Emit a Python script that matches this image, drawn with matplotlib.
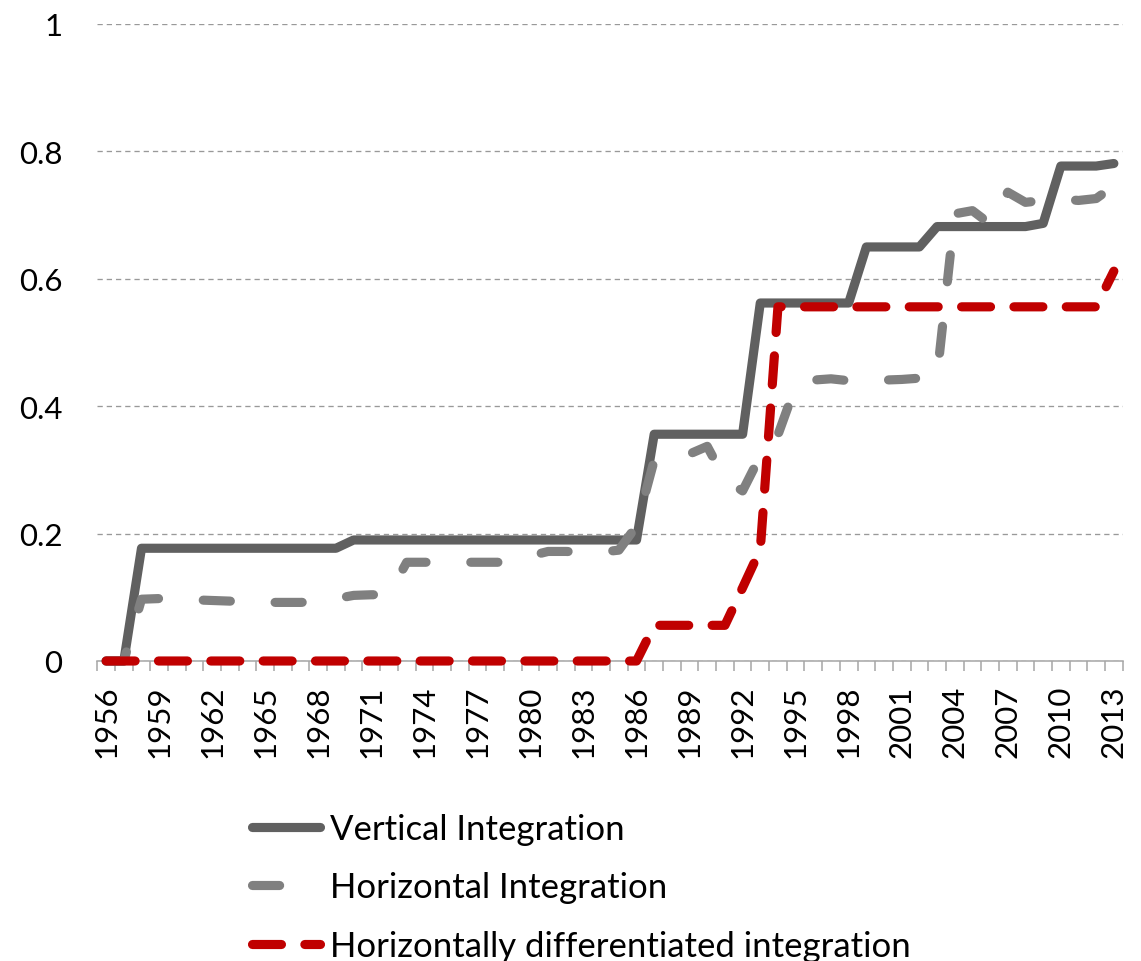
import numpy as np
import matplotlib
matplotlib.use("Agg")
import matplotlib.pyplot as plt

plt.rcParams['font.family'] = ['Lato', 'DejaVu Sans']

years = list(range(1956, 2014))

vertical = ([0.0, 0.0] + [0.177] * 12 + [0.19] * 17 + [0.356] * 6 + [0.562] * 6
            + [0.65] * 4 + [0.682] * 6 + [0.687] + [0.777] * 3 + [0.781])

horizontal = [0.0, 0.0, 0.097, 0.098, 0.097, 0.096, 0.095, 0.094, 0.093, 0.092,
              0.092, 0.092, 0.093, 0.098, 0.103, 0.104, 0.104, 0.155, 0.155, 0.155,
              0.155, 0.155, 0.155, 0.155, 0.165, 0.172, 0.172, 0.171, 0.171, 0.174,
              0.212, 0.315, 0.315, 0.325, 0.337, 0.285, 0.267, 0.322, 0.355, 0.432,
              0.441, 0.443, 0.440, 0.440, 0.441, 0.442, 0.444, 0.447, 0.702, 0.707,
              0.686, 0.736, 0.720, 0.723, 0.725, 0.723, 0.726, 0.746]

hdiff = [0.0] * 31 + [0.056] * 5 + [0.115, 0.175] + [0.556] * 19 + [0.612]

labels = ['Vertical Integration', 'Horizontal Integration',
          'Horizontally differentiated integration']
yticks = [0, 0.2, 0.4, 0.6, 0.8, 1.0]
ytick_labels = ['0', '0.2', '0.4', '0.6', '0.8', '1']

W, H = 1141, 962
fig = plt.figure(figsize=(W / 100, H / 100), dpi=100)
ax = fig.add_axes([97.3 / W, 1 - 662 / H, (1122.7 - 97.3) / W, (662 - 25) / H])

x = np.arange(len(years))
lw = 6.6
l1, = ax.plot(x, vertical, color='#606060', lw=lw, solid_capstyle='round',
              solid_joinstyle='round', zorder=3, clip_on=False)
l2, = ax.plot(x, horizontal, color='#808080', lw=lw, linestyle=(0, (2.96, 4.88)),
              dash_capstyle='round', dash_joinstyle='round', zorder=4, clip_on=False)
l3, = ax.plot(x, hdiff, color='#C00000', lw=lw, linestyle=(0, (3.16, 2.55)),
              dash_capstyle='round', dash_joinstyle='round', zorder=5, clip_on=False)

ax.set_xlim(-0.5, len(years) - 0.5)
ax.set_ylim(0, 1)

# category boundary ticks
ax.set_xticks(np.arange(-0.5, len(years), 1.0))
ax.set_xticklabels([])
ax.tick_params(axis='x', which='major', length=7.5, width=1.1, color='#a6a6a6', direction='out')
# labels every 3 years
ax.set_xticks(x[::3], minor=True)
ax.set_xticklabels([str(y) for y in years[::3]], minor=True, rotation=90, fontsize=22.5)
ax.tick_params(axis='x', which='minor', length=0, pad=17)

ax.set_yticks(yticks)
ax.set_yticklabels(ytick_labels, fontsize=22.5)
ax.tick_params(axis='y', length=0, pad=25)

ax.yaxis.grid(True, linestyle=(0, (4, 3)), linewidth=0.95, color='#999999')
ax.set_axisbelow(True)
for s in ['top', 'left', 'right']:
    ax.spines[s].set_visible(False)
ax.spines['bottom'].set_color('#a6a6a6')
ax.spines['bottom'].set_linewidth(1.1)

ax.legend([l1, l2, l3], labels, loc='upper left',
          bbox_to_anchor=(252 / W, 1 - 814 / H), bbox_transform=fig.transFigure,
          frameon=False, borderpad=0, borderaxespad=0, handlelength=1.95,
          handletextpad=0.3, labelspacing=0.76, fontsize=25)

fig.savefig('out.png', dpi=100)
